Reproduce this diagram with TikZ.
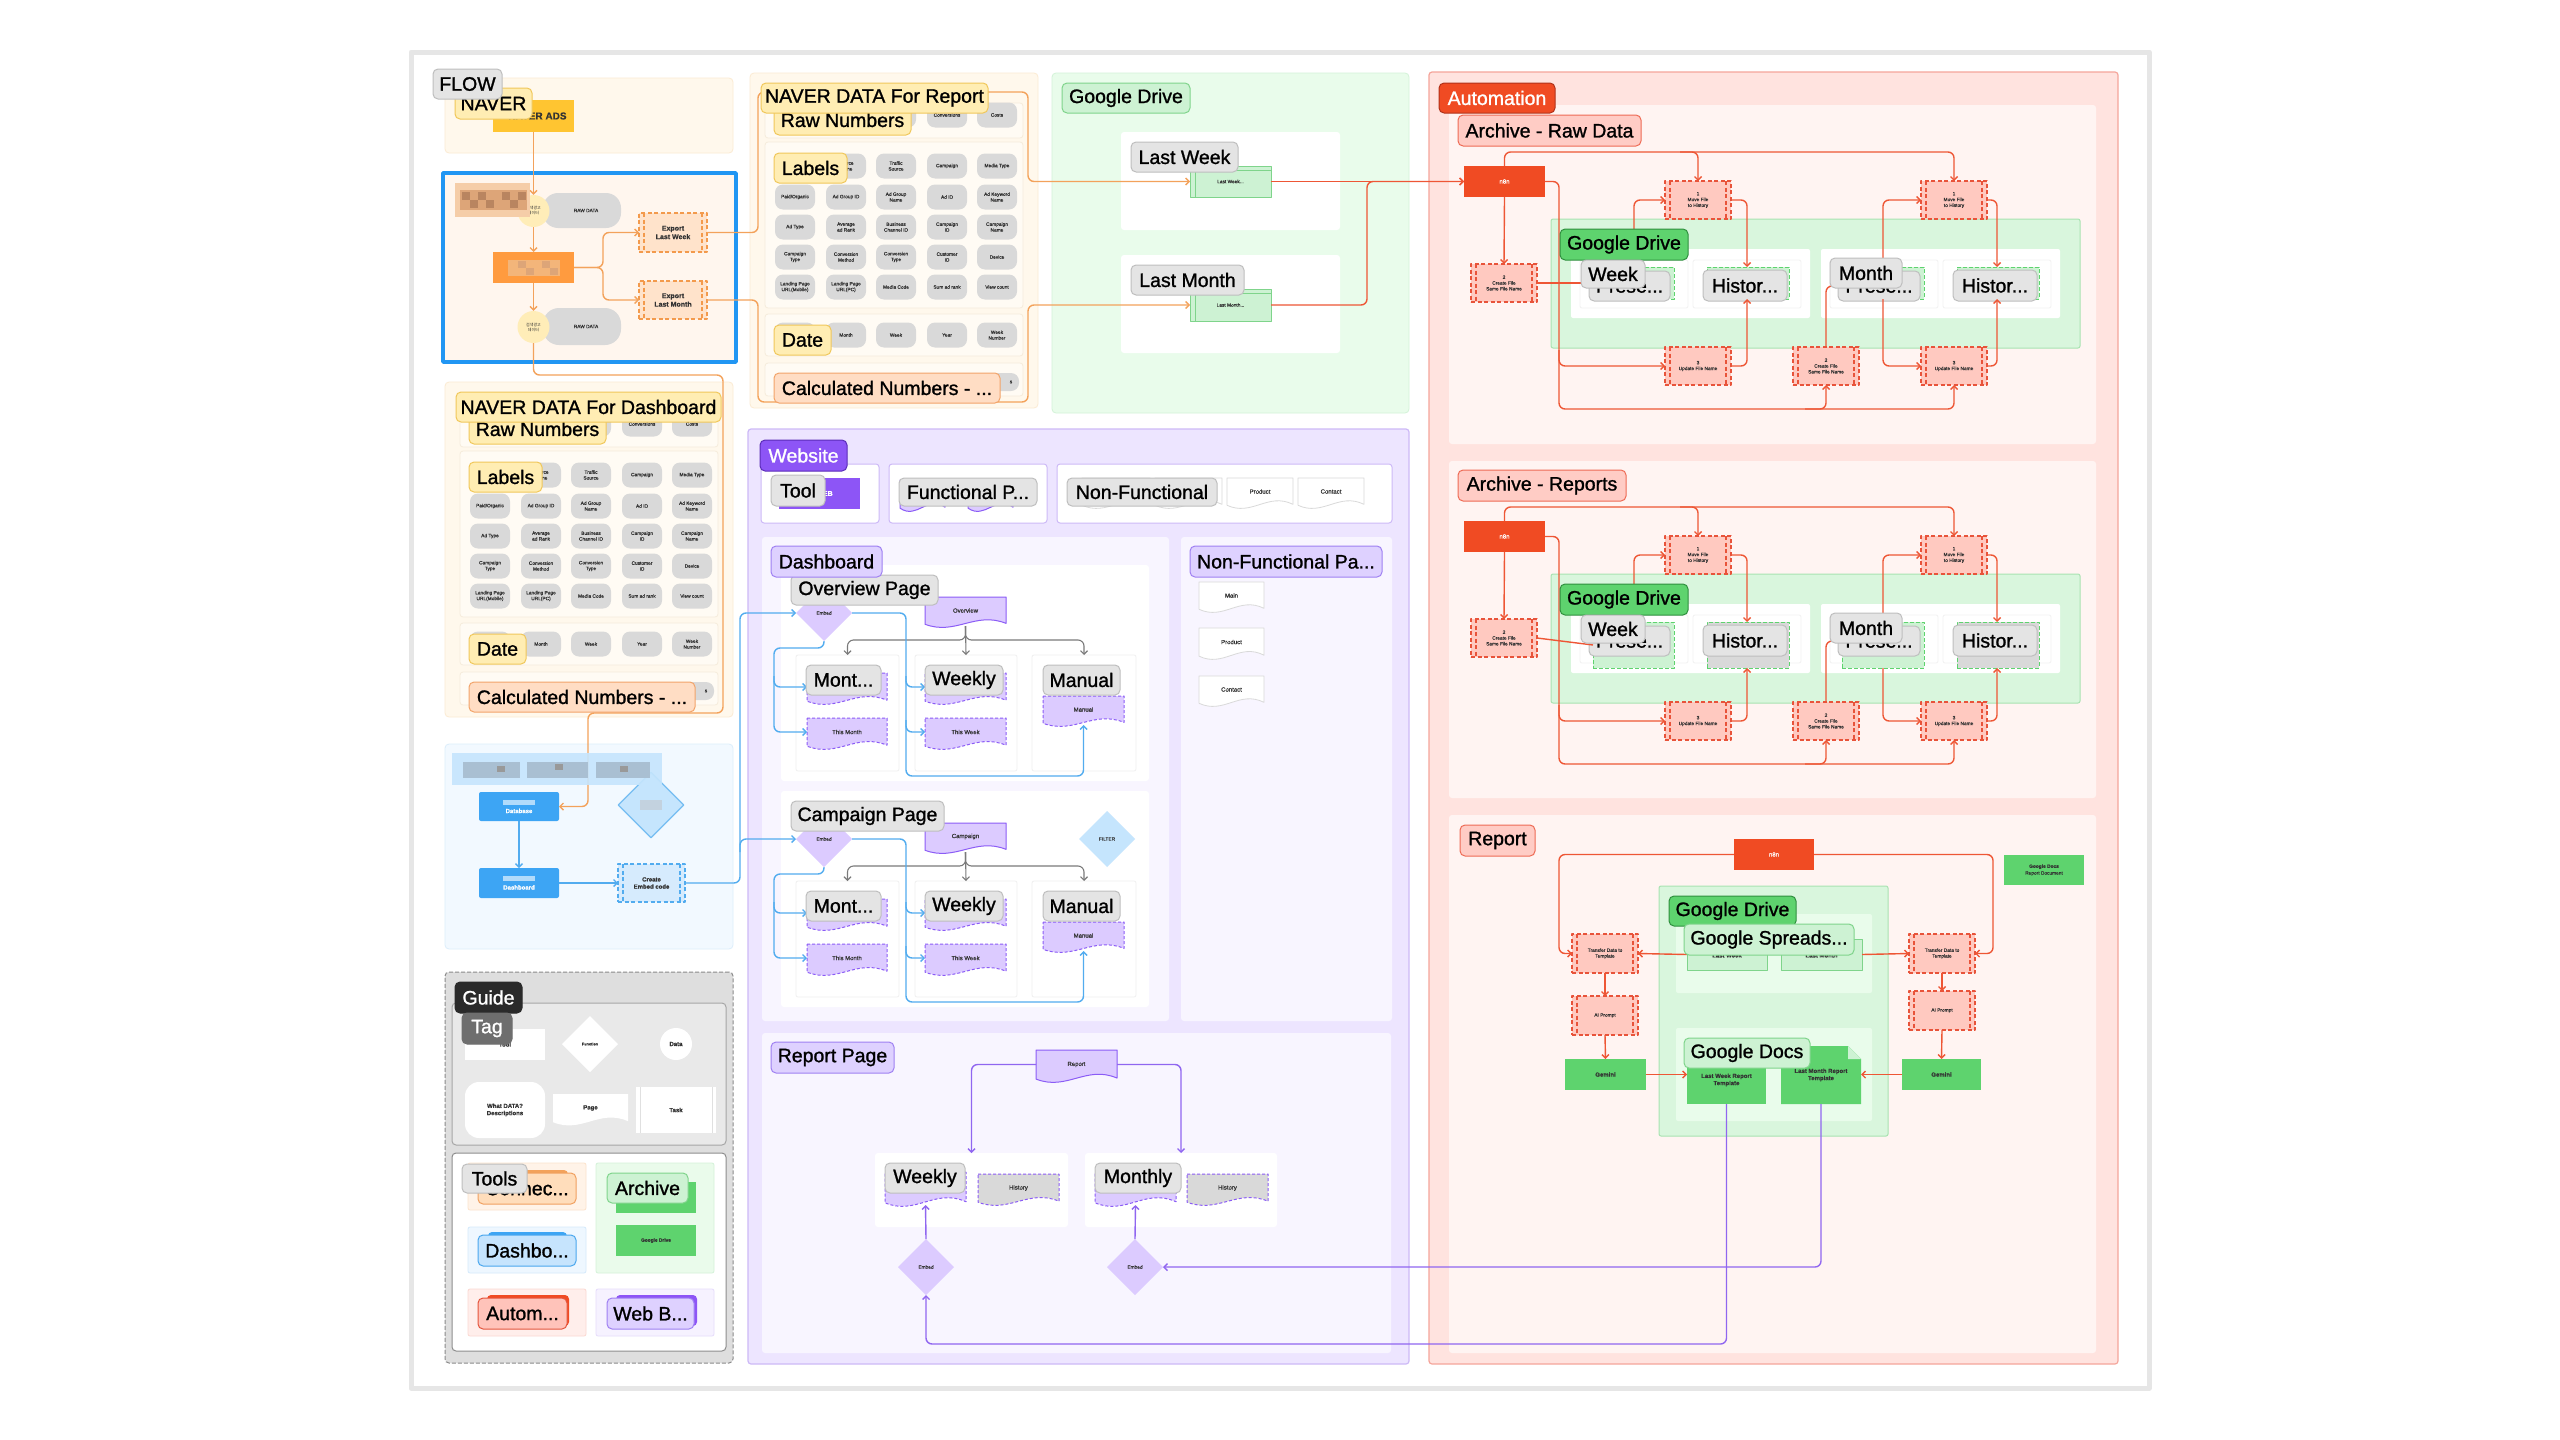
\documentclass[tikz,border=0pt]{standalone}
\usepackage{fontspec}
\setmainfont{Liberation Sans}[FakeBold=0.6]
\setsansfont{Liberation Sans}[FakeBold=0.6]
\newfontfamily\tagfont{Liberation Sans}[FakeBold=1.2]
\newfontfamily\krfont{Noto Sans CJK KR}
\usetikzlibrary{shapes.geometric,arrows.meta}

\definecolor{cText}{HTML}{333333}
\definecolor{cBoardB}{HTML}{E6E6E6}
\definecolor{cCream}{HTML}{FFF8EC}
\definecolor{cCreamB}{HTML}{FBEBD3}
\definecolor{cSub}{HTML}{FFFBF4}
\definecolor{cSubB}{HTML}{F6ECDC}
\definecolor{cYel}{HTML}{FFEDB3}
\definecolor{cYelB}{HTML}{F0C75A}
\definecolor{cNavAds}{HTML}{FFC531}
\definecolor{cOrgLine}{HTML}{F3A25B}
\definecolor{cOrgBox}{HTML}{FF9B3F}
\definecolor{cOrgTask}{HTML}{FFE3CB}
\definecolor{cOrgTaskB}{HTML}{F39A4C}
\definecolor{cOrgT}{HTML}{FFDDC4}
\definecolor{cOrgTB}{HTML}{F2A46A}
\definecolor{cPill}{HTML}{D9D9D9}
\definecolor{cGrayTag}{HTML}{E4E4E4}
\definecolor{cGrayTagB}{HTML}{BEBEBE}
\definecolor{cBlueFrame}{HTML}{2196F3}
\definecolor{cFrameFill}{HTML}{FFF6EE}
\definecolor{cCircle}{HTML}{FFEDB8}
\definecolor{cBlA}{HTML}{F5CDA8}
\definecolor{cBlB}{HTML}{DDA578}
\definecolor{cBlC}{HTML}{B98560}
\definecolor{cBlD}{HTML}{F3B57A}
\definecolor{cGreenBg}{HTML}{E9FCEB}
\definecolor{cGreenBgB}{HTML}{D3F3D8}
\definecolor{cLG}{HTML}{CDF2D3}
\definecolor{cLGB}{HTML}{7FD48B}
\definecolor{cDG}{HTML}{5ED36E}
\definecolor{cDGB}{HTML}{2F8F3E}
\definecolor{cGArea}{HTML}{D9F6DD}
\definecolor{cGAreaB}{HTML}{A8E3B1}
\definecolor{cAutoBg}{HTML}{FFE3DF}
\definecolor{cAutoB}{HTML}{F5A59B}
\definecolor{cAutoIn}{HTML}{FFF4F2}
\definecolor{cRed}{HTML}{F04B23}
\definecolor{cRedB}{HTML}{B0321A}
\definecolor{cRedLine}{HTML}{EE5635}
\definecolor{cTaskR}{HTML}{FFC9C0}
\definecolor{cTaskRB}{HTML}{E8533A}
\definecolor{cPk}{HTML}{FFCCC5}
\definecolor{cPkB}{HTML}{EE6B55}
\definecolor{cWebBg}{HTML}{EDE5FF}
\definecolor{cWebB}{HTML}{CDB9F7}
\definecolor{cWebIn}{HTML}{F8F5FF}
\definecolor{cVio}{HTML}{8D55F6}
\definecolor{cVioB}{HTML}{5B2DB8}
\definecolor{cLP}{HTML}{DED1FF}
\definecolor{cLPB}{HTML}{9F80F2}
\definecolor{cPage}{HTML}{DCCBFF}
\definecolor{cPageB}{HTML}{8B5CF6}
\definecolor{cPurLine}{HTML}{9066F0}
\definecolor{cBlue}{HTML}{3DA5F4}
\definecolor{cBlueLine}{HTML}{52ACEF}
\definecolor{cBlueBg}{HTML}{F2F9FF}
\definecolor{cBlueBgB}{HTML}{DCEEFB}
\definecolor{cLB}{HTML}{C5E5FD}
\definecolor{cCE}{HTML}{D6EBFD}
\definecolor{cBlurG}{HTML}{A9BFD2}
\definecolor{cGuide}{HTML}{DEDEDE}
\definecolor{cGuideB}{HTML}{8A8A8A}
\definecolor{cTagSec}{HTML}{E9E9E9}
\definecolor{cDark}{HTML}{2A2A2A}
\definecolor{cTagT}{HTML}{6E6E6E}
\definecolor{cGrayLine}{HTML}{7A7A7A}
\definecolor{cCellO}{HTML}{FFF3E8}
\definecolor{cCellOB}{HTML}{FCE3CC}
\definecolor{cCellG}{HTML}{EAFBEB}
\definecolor{cCellGB}{HTML}{D5F2D9}
\definecolor{cCellB}{HTML}{EEF7FF}
\definecolor{cCellBB}{HTML}{D5EAFB}
\definecolor{cCellR}{HTML}{FFEEEB}
\definecolor{cCellRB}{HTML}{FBD8D2}
\definecolor{cCellP}{HTML}{F6F2FF}
\definecolor{cCellPB}{HTML}{E6DCFC}
\definecolor{cOT}{HTML}{FFDDBB}
\definecolor{cOTB}{HTML}{F0A060}
\definecolor{cBT}{HTML}{C6E4FD}
\definecolor{cBTB}{HTML}{4AA7EE}
\definecolor{cRT}{HTML}{FFC3BA}
\definecolor{cRTB}{HTML}{E4553D}

\newcommand\fT{\tagfont\fontsize{19.5}{21}\selectfont}
\newcommand\fM{\fontsize{7}{8.5}\selectfont}
\newcommand\fS{\fontsize{6}{7.2}\selectfont}
\newcommand\fXS{\fontsize{4.8}{5.8}\selectfont}
\newcommand\fKR{\krfont\fontsize{4}{5}\selectfont}

\tikzset{
 bse/.style={inner sep=1pt,outer sep=0pt,align=center,font=\fS,text=cText},
 bxs/.style={bse,rectangle},
 sub/.style={bse,fill=cSub,draw=cSubB,line width=.8pt,rounded corners=3pt},
 tgs/.style={bse,rounded corners=5pt,line width=1pt,font=\fT,text=black},
 tgray/.style={tgs,fill=cGrayTag,draw=cGrayTagB},
 tyel/.style={tgs,fill=cYel,draw=cYelB},
 torg/.style={tgs,fill=cOrgT,draw=cOrgTB},
 tlgreen/.style={tgs,fill=cLG,draw=cLGB},
 tdgreen/.style={tgs,fill=cDG,draw=cDGB},
 tpink/.style={tgs,fill=cPk,draw=cPkB},
 tpurp/.style={tgs,fill=cLP,draw=cLPB},
 tred/.style={tgs,fill=cRed,draw=cRedB,text=white},
 tvio/.style={tgs,fill=cVio,draw=cVioB,text=white},
 tdark/.style={tgs,fill=cDark,draw=cDark,text=white},
 ttag/.style={tgs,fill=cTagT,draw=cTagT,text=white},
 tblue/.style={tgs,fill=cBT,draw=cBTB},
 tredl/.style={tgs,fill=cRT,draw=cRTB},
 torgl/.style={tgs,fill=cOT,draw=cOTB},
 pill/.style={bse,fill=cPill,rounded corners=8pt,font=\fXS,minimum width=40pt,minimum height=25pt},
 n8nbox/.style={bse,fill=cRed,text=white,font=\fS},
 card/.style={bse,fill=cGrayTag,draw=cGrayTagB,line width=1pt,rounded corners=5pt,font=\fT,text=black},
 gcard/.style={bse,fill=cLG,draw=cDG,line width=1pt,dash pattern=on 4pt off 2pt},
 slot/.style={bse,fill=white,draw=black!5,line width=.8pt,rounded corners=2pt},
 colbox/.style={bse,fill=white,draw=black!6,line width=.8pt,rounded corners=2pt},
 wrow/.style={bse,fill=white,draw=cWebB,line width=1pt,rounded corners=3pt},
 dia/.style={diamond,aspect=1,minimum width=56pt,minimum height=56pt,inner sep=0pt,outer sep=0pt,font=\fXS,text=cText},
 dpage/.style={fill=cPage,draw=cPageB,line width=1pt,dash pattern=on 3pt off 2pt},
 wpage/.style={fill=white,draw=black!15,line width=.8pt},
 tsk/.style={bse,draw=#1,line width=1.1pt,dash pattern=on 4pt off 2.5pt,
   path picture={\draw[#1,line width=1.1pt,dash pattern=on 4pt off 2.5pt]
   ([xshift=5pt]path picture bounding box.north west) -- ([xshift=5pt]path picture bounding box.south west)
   ([xshift=-5pt]path picture bounding box.north east) -- ([xshift=-5pt]path picture bounding box.south east);}},
 rtask/.style={tsk=cTaskRB,fill=cTaskR,font=\fXS},
 otask/.style={tsk=cOrgTaskB,fill=cOrgTask,font=\fM\bfseries},
 btask/.style={tsk=cBlueLine,fill=cCE,font=\fS\bfseries},
 wtask/.style={bse,fill=white,path picture={\draw[black!12,line width=1pt]
   ([xshift=4pt]path picture bounding box.north west) -- ([xshift=4pt]path picture bounding box.south west)
   ([xshift=-4pt]path picture bounding box.north east) -- ([xshift=-4pt]path picture bounding box.south east);}},
 gfile/.style={bse,fill=cLG,draw=cLGB,line width=1pt,font=\fXS,path picture={\draw[cLGB,line width=.8pt]
   ([xshift=5pt]path picture bounding box.north west) -- ([xshift=5pt]path picture bounding box.south west)
   ([yshift=-4pt]path picture bounding box.north west) -- ([yshift=-4pt]path picture bounding box.north east);}},
 conn/.style={line width=1.4pt,rounded corners=6pt},
 arw/.style={conn,-{Straight Barb[length=3.5pt,width=7pt]}},
 oar/.style={arw,draw=cOrgLine},
 rar/.style={arw,draw=cRedLine},
 rln/.style={conn,draw=cRedLine},
 bar/.style={arw,draw=cBlueLine},
 par/.style={arw,draw=cPurLine},
 gar/.style={arw,draw=cGrayLine,line width=1.1pt},
}

% box by corners: name, style, x1, y1, x2, y2, text
\newcommand\bx[7]{\node[#2,minimum width={((#5)-(#3))*1pt},minimum height={((#6)-(#4))*1pt}] (#1) at ({((#3)+(#5))/2},{((#4)+(#6))/2}) {#7};}
% page (document) shape: name, style, x1, y1, x2, y2, text
\newcommand\pg[7]{%
 \path[#2] ({#3},{#4}) -- ({#5},{#4}) -- ({#5},{(#6)-0.15*((#6)-(#4))}) .. controls ({(#3)+0.62*((#5)-(#3))},{(#6)-0.55*((#6)-(#4))}) and ({(#3)+0.38*((#5)-(#3))},{(#6)+0.25*((#6)-(#4))}) .. ({#3},{(#6)-0.12*((#6)-(#4))}) -- cycle;
 \node[bse,inner sep=0pt,minimum width={((#5)-(#3))*1pt},minimum height={((#6)-(#4))*1pt}] (#1) at ({((#3)+(#5))/2},{((#4)+(#6))/2-2}) {#7};}

% NAVER data block body
\newcommand\navbody[3]{%
\begin{scope}[shift={(#1,#2)}]
\bx{#3out}{bxs,fill=cCream,draw=cCreamB,line width=.8pt,rounded corners=4pt}{445}{382}{733}{717}{}
\bx{#3sr}{sub}{460}{412}{718}{447}{}
\bx{#3sl}{sub}{460}{451}{718}{617}{}
\bx{#3sd}{sub}{460}{623}{718}{665}{}
\bx{#3sc}{sub}{460}{672}{718}{705}{}
\foreach \cx/\t in {490/{},541/{},591/{},642/Conversions,692/Costs}{\node[pill] (#3r\cx) at (\cx,424) {\t};}
\foreach \cx/\cy/\t in {490/475/{},541/475/{Source\\Name},591/475/{Traffic\\Source},642/475/Campaign,692/475/{Media Type},
 490/506/{Paid\slash Organic},541/506/{Ad Group ID},591/506/{Ad Group\\Name},642/506/{Ad ID},692/506/{Ad Keyword\\Name},
 490/536/{Ad Type},541/536/{Average\\ad Rank},591/536/{Business\\Channel ID},642/536/{Campaign\\ID},692/536/{Campaign\\Name},
 490/566/{Campaign\\Type},541/566/{Conversion\\Method},591/566/{Conversion\\Type},642/566/{Customer\\ID},692/566/Device,
 490/596/{Landing Page\\URL(Mobile)},541/596/{Landing Page\\URL(PC)},591/596/{Media Code},642/596/{Sum ad rank},692/596/{View count}}
 {\node[pill] (#3l\cx-\cy) at (\cx,\cy) {\t};}
\foreach \cx/\t in {490/{},541/Month,591/Week,642/Year,692/{Week\\Number}}{\node[pill] (#3d\cx) at (\cx,644) {\t};}
\node[pill,minimum width=34pt,minimum height=18pt] (#3cp) at (697,691) {};
\node[bse,font=\fXS] (#3cs) at (706,691) {s};
\end{scope}}
\newcommand\navtags[5]{%
\begin{scope}[shift={(#1,#2)}]
\bx{#3tr}{tyel}{469}{414}{606}{444}{Raw Numbers}
\bx{#3t}{tyel}{456}{392}{#4}{422}{#5}
\bx{#3tl}{tyel}{469}{462}{542}{492}{Labels}
\bx{#3td}{tyel}{469}{634}{526}{664}{Date}
\bx{#3tc}{torg}{469}{682}{695}{712}{Calculated Numbers - ...}
\end{scope}}

% Archive block: yshift, suffix, extra card height, history fill
\newcommand\archiveBody[4]{%
\begin{scope}[shift={(0,#1)}]
\bx{gda#2}{bxs,fill=cGArea,draw=cGAreaB,line width=1pt,rounded corners=2pt}{1551}{219}{2080}{348}{}
\bx{wbl#2}{bxs,fill=white,rounded corners=2pt}{1571}{249}{1810}{318}{}
\bx{wbr#2}{bxs,fill=white,rounded corners=2pt}{1821}{249}{2060}{318}{}
\bx{sa#2}{slot}{1580}{260}{1688}{308}{}
\bx{sb#2}{slot}{1693}{260}{1801}{308}{}
\bx{sc#2}{slot}{1830}{260}{1938}{308}{}
\bx{sd#2}{slot}{1943}{260}{2051}{308}{}
\bx{ga#2}{gcard}{1593}{267}{1674}{299+#3}{}
\bx{gb#2}{gcard,fill=#4}{1707}{267}{1789}{299+#3}{}
\bx{gc#2}{gcard}{1842}{267}{1924}{299+#3}{}
\bx{gd#2}{gcard,fill=#4}{1957}{267}{2039}{299+#3}{}
\bx{pa#2}{card}{1589}{271}{1670}{301}{Prese...}
\bx{pb#2}{card}{1703}{270}{1787}{301}{Histor...}
\bx{pc#2}{card}{1838}{271}{1920}{301}{Prese...}
\bx{pd#2}{card}{1953}{270}{2037}{301}{Histor...}
\bx{n8n#2}{n8nbox}{1464}{166}{1545}{197}{n8n}
\bx{mvl#2}{rtask}{1665}{181}{1731}{219}{1\\Move File\\to History}
\bx{mvr#2}{rtask}{1921}{181}{1987}{219}{1\\Move File\\to History}
\bx{cra#2}{rtask}{1471}{264}{1537}{302}{2\\Create File\\Same File Name}
\bx{upl#2}{rtask}{1665}{347}{1731}{385}{3\\Update File Name}
\bx{crb#2}{rtask}{1793}{347}{1859}{385}{2\\Create File\\Same File Name}
\bx{upr#2}{rtask}{1921}{347}{1987}{385}{3\\Update File Name}
\draw[rar] (n8n#2.north) -- (1504.5,152) -- (1954,152) -- (mvr#2.north);
\draw[rar] (1680,152) -- (1698,152) -- (mvl#2.north);
\draw[rar] (n8n#2.south) -- (cra#2.north);
\draw[rar] (n8n#2.east) -- (1559,181.5) -- (1559,409) -- (1954,409) -- (upr#2.south);
\draw[rar] (1805,409) -- (1826,409) -- (crb#2.south);
\draw[rar] (1559,350) -- (1559,366) -- (upl#2.west);
\draw[rln] (cra#2.east) -- (ga#2.west);
\draw[rar] (1634,267) -- (1634,200) -- (mvl#2.west);
\draw[rar] (mvl#2.east) -- (1747,200) -- (gb#2.north -| 1747,0);
\draw[rar] (upl#2.east) -- (1747,366) -- (gb#2.south -| 1747,0);
\draw[rln] (crb#2.north) -- (1826,286) -- (pc#2.west);
\draw[rar] (1883,267) -- (1883,200) -- (mvr#2.west);
\draw[rar] (gc#2.south -| 1883,0) -- (1883,366) -- (upr#2.west);
\draw[rar] (mvr#2.east) -- (1997,200) -- (gd#2.north -| 1997,0);
\draw[rar] (upr#2.east) -- (1997,366) -- (gd#2.south -| 1997,0);
\end{scope}}
\newcommand\archiveTags[2]{%
\begin{scope}[shift={(0,#1)}]
\bx{gdt#2}{tdgreen}{1560}{229}{1688}{260}{Google Drive}
\bx{wk#2}{tgray}{1581}{260}{1645}{288}{Week}
\bx{mo#2}{tgray}{1830}{258}{1902}{288}{Month}
\end{scope}}

% Dashboard page block: yshift, suffix, page text, tag text, tag right x
\newcommand\dashsec[5]{%
\begin{scope}[shift={(0,#1)}]
\bx{sub#2}{bxs,fill=white,rounded corners=3pt}{781}{565}{1149}{781}{}
\bx{cla#2}{colbox}{796}{655}{899}{771}{}
\bx{clb#2}{colbox}{915}{655}{1017}{771}{}
\bx{clc#2}{colbox}{1032}{655}{1136}{771}{}
\node[dia,fill=cPage] (emb#2) at (824,613) {Embed};
\pg{pg#2}{fill=cPage,draw=cPageB,line width=1pt}{925}{597}{1006}{628}{#3}
\pg{ma#2}{dpage}{807}{673}{887}{705}{}
\pg{mb#2}{dpage}{807}{718}{887}{750}{This Month}
\pg{wa#2}{dpage}{925}{673}{1006}{705}{}
\pg{wb#2}{dpage}{925}{718}{1006}{750}{This Week}
\pg{mn#2}{dpage}{1043}{696}{1124}{727}{Manual}
\draw[gar] (pg#2.south) -- (clb#2.north);
\draw[gar] (pg#2.south) -- ++(0,14) -| (cla#2.north);
\draw[gar] (pg#2.south) -- ++(0,14) -| (clc#2.north);
\draw[bar] (emb#2.east) -- (906,613) -- (906,776) -- (1083.5,776) -- (mn#2.south);
\draw[bar] (906,676) -- (906,687) -- (wa#2.west);
\draw[bar] (906,720) -- (906,732) -- (wb#2.west);
\draw[bar] (emb#2.south) -- (824,648) -- (774,648) -- (774,732) -- (mb#2.west);
\draw[bar] (774,676) -- (774,687) -- (ma#2.west);
\bx{tma#2}{tgray}{806}{665}{881}{695}{Mont...}
\bx{twk#2}{tgray}{925}{665}{1003}{695}{Weekly}
\bx{tmn#2}{tgray}{1043}{665}{1120}{695}{Manual}
\bx{tpg#2}{tgray}{791}{575}{#5}{605}{#4}
\end{scope}}

\begin{document}
\begin{tikzpicture}[x=1pt,y=-1pt,line join=round]
\useasboundingbox (0,0) rectangle (2560,1440);
\fill[white] (0,0) rectangle (2560,1440);
\draw[cBoardB,line width=5pt,fill=white] (411,52) rectangle (2149,1388);

%% ===== LEFT: NAVER =====
\bx{navbg}{bxs,fill=cCream,draw=cCreamB,line width=.8pt,rounded corners=4pt}{445}{78}{733}{153}{}
\bx{navads}{bxs,fill=cNavAds,font=\fontsize{10}{11}\selectfont\bfseries,text=black!80}{493}{100}{574}{132}{\hspace*{8pt}NAVER ADS}
\bx{frame}{bxs,fill=cFrameFill,draw=cBlueFrame,line width=3.5pt}{443}{173}{736}{362}{}
\bx{rawa}{bxs,fill=cPill,rounded corners=15pt,font=\fXS}{543}{193}{621}{228}{\hspace*{8pt}RAW DATA}
\node[circle,fill=cCircle,minimum size=32pt,inner sep=0pt,font=\fKR,align=center,text=cText] (ca) at (533.5,211) {검색광고\\데이터};
\fill[cBlA] (455,183) rectangle (530,217);
\fill[cBlB] (460,190) rectangle (527,210);
\foreach \i/\j in {0/0,1/1,2/0,3/1,5/0,6/1,7/0}{\fill[cBlC] ({462+\i*8},{192+\j*8}) rectangle +(8,8);}
\bx{ob}{bxs,fill=cOrgBox}{493}{252}{574}{283}{}
\fill[cBlD] (508,260) rectangle (560,276);
\foreach \i/\j in {1/0,2/1,4/0,5/1}{\fill[cBlB] ({510+\i*8},{261+\j*7}) rectangle +(8,7);}
\bx{rawb}{bxs,fill=cPill,rounded corners=16pt,font=\fXS}{543}{308}{621}{345}{\hspace*{8pt}RAW DATA}
\node[circle,fill=cCircle,minimum size=32pt,inner sep=0pt,font=\fKR,align=center,text=cText] (cb) at (533.5,327) {검색광고\\데이터};
\bx{elw}{otask}{639}{213}{707}{252}{Export\\Last Week}
\bx{elm}{otask}{639}{281}{707}{319}{Export\\Last Month}

%% ===== NAVER DATA blocks =====
\navbody{0}{0}{d}
\navbody{305}{-309}{r}

%% ===== BLUE (dashboard tool) =====
\bx{gbg}{bxs,fill=cBlueBg,draw=cBlueBgB,line width=.8pt,rounded corners=4pt}{445}{744}{733}{949}{}
\bx{db}{bxs,fill=cBlue,text=white,font=\fS\bfseries,rounded corners=2pt}{479}{792}{559}{821}{\textcolor{white!60!cBlue}{\rule{32pt}{5pt}}\\[1pt]Database}
\node[diamond,aspect=1,minimum width=66pt,minimum height=66pt,inner sep=0pt,fill=cLB,draw=cBlueLine!80,line width=1.2pt] (gdia) at (651,805) {\textcolor{cBlurG!70}{\rule{22pt}{10pt}}};
\bx{dsh}{bxs,fill=cBlue,text=white,font=\fS\bfseries,rounded corners=2pt}{479}{868}{559}{898}{\textcolor{white!60!cBlue}{\rule{32pt}{5pt}}\\[1pt]Dashboard}
\bx{ce}{btask}{618}{864}{685}{902}{Create\\Embed code}

%% ===== GUIDE =====
\bx{guide}{bxs,fill=cGuide,draw=cGuideB,line width=1pt,dash pattern=on 4pt off 2pt,rounded corners=4pt}{445}{972}{733}{1363}{}
\bx{tsec}{bxs,fill=cTagSec,draw=black!35,line width=1pt,rounded corners=4pt}{452}{1003}{726}{1145}{}
\bx{gtool}{bxs,fill=white,font=\fS\bfseries}{465}{1029}{545}{1060}{Tool}
\node[dia,fill=white,font=\fontsize{3.8}{4.5}\selectfont\bfseries] (gfun) at (590,1044) {Function};
\node[circle,fill=white,minimum size=32pt,inner sep=0pt,font=\fS\bfseries,text=cText] (gdat) at (676,1044) {Data};
\bx{gwd}{bxs,fill=white,rounded corners=14pt,font=\fS\bfseries}{465}{1082}{545}{1138}{What DATA?\\Descriptions}
\pg{gpg}{fill=white}{553}{1094}{628}{1126}{\textbf{Page}}
\bx{gtask}{wtask,font=\fS\bfseries}{636}{1087}{716}{1133}{Task}
\bx{tools}{bxs,fill=white,draw=black!45,line width=1pt,rounded corners=4pt}{452}{1153}{726}{1351}{}
\bx{clo}{bxs,fill=cCellO,draw=cCellOB,line width=.8pt,rounded corners=2pt}{468}{1163}{586}{1210}{}
\bx{clg}{bxs,fill=cCellG,draw=cCellGB,line width=.8pt,rounded corners=2pt}{596}{1163}{714}{1273}{}
\bx{clbl}{bxs,fill=cCellB,draw=cCellBB,line width=.8pt,rounded corners=2pt}{468}{1227}{586}{1273}{}
\bx{clr}{bxs,fill=cCellR,draw=cCellRB,line width=.8pt,rounded corners=2pt}{468}{1289}{586}{1336}{}
\bx{clp}{bxs,fill=cCellP,draw=cCellPB,line width=.8pt,rounded corners=2pt}{596}{1289}{714}{1336}{}
\bx{sto}{bxs,fill=cOrgLine,rounded corners=4pt}{486}{1170}{568}{1200}{}
\bx{stg}{bxs,fill=cDG}{616}{1182}{696}{1213}{}
\bx{gdbox}{bxs,fill=cDG,font=\fXS\bfseries}{616}{1225}{696}{1256}{Google Drive}
\bx{stb}{bxs,fill=cBlue,rounded corners=4pt}{488}{1232}{567}{1262}{}
\bx{str}{bxs,fill=cRed,rounded corners=4pt}{487}{1295}{569}{1326}{}
\bx{stp}{bxs,fill=cVio,rounded corners=4pt}{616}{1295}{697}{1326}{}

%% ===== GOOGLE DRIVE (top) =====
\bx{gdtop}{bxs,fill=cGreenBg,draw=cGreenBgB,line width=.8pt,rounded corners=4pt}{1052}{73}{1409}{413}{}
\bx{gwa}{bxs,fill=white,rounded corners=3pt}{1121}{132}{1340}{230}{}
\bx{gwb}{bxs,fill=white,rounded corners=3pt}{1121}{255}{1340}{353}{}
\bx{lwf}{gfile}{1190}{166}{1271}{197}{Last Week...}
\bx{lmf}{gfile}{1190}{289}{1271}{321}{Last Month...}

%% ===== AUTOMATION =====
\bx{auto}{bxs,fill=cAutoBg,draw=cAutoB,line width=1.2pt,rounded corners=3pt}{1429}{72}{2118}{1364}{}
\bx{ainA}{bxs,fill=cAutoIn,rounded corners=3pt}{1449}{105}{2096}{444}{}
\bx{ainB}{bxs,fill=cAutoIn,rounded corners=3pt}{1449}{461}{2096}{798}{}
\bx{ainC}{bxs,fill=cAutoIn,rounded corners=3pt}{1449}{815}{2096}{1353}{}
\archiveBody{0}{A}{0}{cLG}
\archiveBody{355}{B}{14}{cPill}

% Report
\bx{n8nC}{n8nbox}{1734}{839}{1814}{870}{n8n}
\bx{gdocbox}{bxs,fill=cDG,font=\fXS}{2004}{855}{2084}{885}{\textbf{Google Docs}\\[1pt]Report Document}
\bx{rga}{bxs,fill=cGArea,draw=cGAreaB,line width=1pt,rounded corners=2pt}{1659}{886}{1888}{1136}{}
\bx{rsbt}{bxs,fill=cGreenBg,rounded corners=2pt}{1676}{914}{1872}{993}{}
\bx{rsbb}{bxs,fill=cGreenBg,rounded corners=2pt}{1676}{1028}{1872}{1121}{}
\bx{slw}{bxs,fill=cLG,draw=cLGB,line width=1pt,font=\fS\bfseries}{1687}{939}{1767}{970}{\raisebox{-6pt}{Last Week}}
\bx{slm}{bxs,fill=cLG,draw=cLGB,line width=1pt,font=\fS\bfseries}{1781}{939}{1862}{970}{\raisebox{-6pt}{Last Month}}
\bx{dlw}{bxs,fill=cDG,font=\fS\bfseries}{1687}{1056}{1766}{1104}{Last Week Report\\Template}
\fill[cDG] (1781,1046) -- (1848,1046) -- (1861,1059) -- (1861,1104) -- (1781,1104) -- cycle;
\fill[cLG] (1848,1046) -- (1861,1059) -- (1848,1059) -- cycle;
\node[bse,font=\fS\bfseries,minimum width=80pt,minimum height=58pt,inner sep=0pt] (dlm) at (1821,1075) {Last Month Report\\Template};
\bx{trl}{rtask}{1572}{934}{1638}{973}{Transfer Data to\\Template}
\bx{trr}{rtask}{1909}{934}{1975}{973}{Transfer Data to\\Template}
\bx{ail}{rtask}{1572}{996}{1638}{1035}{AI Prompt}
\bx{air}{rtask}{1909}{991}{1975}{1030}{AI Prompt}
\bx{gml}{bxs,fill=cDG,font=\fS\bfseries}{1565}{1059}{1646}{1090}{Gemini}
\bx{gmr}{bxs,fill=cDG,font=\fS\bfseries}{1902}{1059}{1981}{1090}{Gemini}
\draw[rar] (n8nC.west) -- (1559,854.5) -- (1559,953.5) -- (trl.west);
\draw[rar] (n8nC.east) -- (1993,854.5) -- (1993,953.5) -- (trr.east);
\draw[rar] (slw.west) -- (trl.east);
\draw[rar] (slm.east) -- (trr.west);
\draw[rar] (trl.south) -- (ail.north);
\draw[rar] (ail.south) -- (gml.north);
\draw[rar] (trr.south) -- (air.north);
\draw[rar] (air.south) -- (gmr.north);
\draw[rar] (gml.east) -- (gml.east -| dlw.west);
\draw[rar] (gmr.west) -- (gmr.west -| dlm.east);

%% ===== WEBSITE =====
\bx{web}{bxs,fill=cWebBg,draw=cWebB,line width=1.2pt,rounded corners=3pt}{748}{429}{1409}{1364}{}
\bx{wra}{wrow}{761}{464}{879}{523}{}
\bx{wrb}{wrow}{889}{464}{1047}{523}{}
\bx{wrc}{wrow}{1057}{464}{1392}{523}{}
\bx{webb}{bxs,fill=cVio,text=white,font=\fM\bfseries}{779}{478}{860}{509}{\hspace*{10pt}WEB}
\pg{fpa}{fill=cPage,draw=cPageB,line width=1pt}{900}{480}{945}{512}{}
\pg{fpb}{fill=cPage,draw=cPageB,line width=1pt}{968}{480}{1013}{512}{}
\pg{nfa}{wpage}{1082}{478}{1150}{509}{}
\pg{nfb}{wpage}{1155}{478}{1222}{509}{}
\pg{nfc}{wpage}{1227}{478}{1293}{509}{Product}
\pg{nfd}{wpage}{1298}{478}{1364}{509}{Contact}
\bx{dashb}{bxs,fill=cWebIn,rounded corners=3pt}{762}{537}{1169}{1021}{}
\bx{nfbox}{bxs,fill=cWebIn,rounded corners=3pt}{1181}{537}{1392}{1021}{}
\pg{nmain}{wpage}{1199}{582}{1264}{613}{Main}
\pg{nprod}{wpage}{1199}{628}{1264}{660}{Product}
\pg{ncont}{wpage}{1199}{676}{1264}{707}{Contact}
\dashsec{0}{O}{Overview}{Overview Page}{938}
\dashsec{226}{C}{Campaign}{Campaign Page}{944}
\node[dia,fill=cLB] (filt) at (1107,839) {FILTER};
% report page
\bx{rpb}{bxs,fill=cWebIn,rounded corners=3pt}{762}{1033}{1391}{1353}{}
\pg{rep}{fill=cPage,draw=cPageB,line width=1pt}{1036}{1050}{1117}{1083}{Report}
\bx{rwa}{bxs,fill=white,rounded corners=3pt}{875}{1153}{1068}{1227}{}
\bx{rwb}{bxs,fill=white,rounded corners=3pt}{1085}{1153}{1277}{1227}{}
\pg{wkp}{dpage}{885}{1172}{966}{1207}{}
\pg{hsa}{dpage,fill=cPill}{978}{1174}{1059}{1206}{History}
\pg{mop}{dpage}{1095}{1172}{1176}{1207}{}
\pg{hsb}{dpage,fill=cPill}{1187}{1174}{1268}{1206}{History}
\node[dia,fill=cPage] (embA) at (926,1267) {Embed};
\node[dia,fill=cPage] (embB) at (1135,1267) {Embed};
\draw[par] (rep.west) -| (rwa.north);
\draw[par] (rep.east) -| (rwb.north);
\draw[par] (embA.north) -- (wkp.south);
\draw[par] (embB.north) -- (mop.south);

%% ===== cross-region connectors =====
\draw[oar] (navads.south) -- (ca.north);
\draw[oar] (ca.south) -- (ob.north);
\draw[oar] (ob.south) -- (cb.north);
\draw[oar] (ob.east) -- (603,267.5) |- (elw.west);
\draw[oar] (ob.east) -- (603,267.5) |- (elm.west);
\draw[oar] (elw.east) -- (758,232.5) -- (758,92) -- (1028,92) -- (1028,181.5) -- (lwf.west);
\draw[oar] (elm.east) -- (758,300) -- (758,402) -- (1028,402) -- (1028,305) -- (lmf.west);
\draw[oar] (cb.south) -- (533.5,375) -- (723,375) -- (723,713) -- (588,713) -- (588,806.5) -- (db.east);
\draw[rar] (lwf.east) -- (n8nA.west);
\draw[rar] (lmf.east) -- (1367,305) -- (1367,181.5) -- (n8nA.west);
\draw[bar] (db.south) -- (dsh.north);
\draw[bar] (dsh.east) -- (ce.west);
\draw[bar] (ce.east) -- (740,883) -- (740,613) -- (embO.west);
\draw[bar] (740,852) -- (740,839) -- (embC.west);
\draw[par] (dlw.south) -- (1726.5,1344) -- (926,1344) -- (embA.south);
\draw[par] (dlm.south) -- (1821,1267) -- (embB.east);

% blurred header of dashboard tool (over the orange line)
\fill[cLB,opacity=.9] (452,753) rectangle (662,785);
\fill[cBlurG] (463,762) rectangle (520,778);
\fill[cBlurG] (527,762) rectangle (588,778);
\fill[cBlurG] (596,762) rectangle (650,778);
\fill[black!40] (497,766) rectangle (505,772);
\fill[black!40] (555,764) rectangle (563,770);
\fill[black!40] (620,766) rectangle (628,772);

%% ===== TAGS =====
\bx{navt}{tyel}{455}{88}{532}{119}{NAVER}
\bx{flow}{tgray}{433}{69}{502}{99}{FLOW}
\navtags{0}{0}{d}{721}{NAVER DATA For Dashboard}
\navtags{305}{-309}{r}{683}{NAVER DATA For Report}
\bx{gdtag}{tlgreen}{1062}{83}{1190}{113}{Google Drive}
\bx{lwt}{tgray}{1131}{142}{1238}{172}{Last Week}
\bx{lmt}{tgray}{1131}{265}{1244}{295}{Last Month}
\bx{autot}{tred}{1439}{83}{1555}{113}{Automation}
\bx{artag}{tpink}{1458}{115}{1641}{146}{Archive - Raw Data}
\archiveTags{0}{A}
\bx{arrtag}{tpink}{1458}{470}{1626}{501}{Archive - Reports}
\archiveTags{355}{B}
\bx{reptag}{tpink}{1460}{825}{1535}{856}{Report}
\bx{rgdt}{tdgreen}{1669}{896}{1796}{926}{Google Drive}
\bx{rsst}{tlgreen}{1684}{924}{1854}{955}{Google Spreads...}
\bx{rgdc}{tlgreen}{1684}{1038}{1810}{1068}{Google Docs}
\bx{webt}{tvio}{760}{440}{847}{471}{Website}
\bx{toolt}{tgray}{771}{475}{825}{506}{Tool}
\bx{funct}{tgray}{899}{478}{1037}{506}{Functional P...}
\bx{nonft}{tgray}{1067}{478}{1217}{506}{Non-Functional}
\bx{dasht}{tpurp}{771}{546}{882}{577}{Dashboard}
\bx{nfpt}{tpurp}{1190}{546}{1382}{577}{Non-Functional Pa...}
\bx{rpt}{tpurp}{771}{1042}{894}{1073}{Report Page}
\bx{wkt}{tgray}{885}{1163}{965}{1193}{Weekly}
\bx{mot}{tgray}{1095}{1163}{1181}{1193}{Monthly}
\bx{guidet}{tdark}{455}{982}{522}{1013}{Guide}
\bx{tagt}{ttag}{462}{1013}{512}{1044}{Tag}
\bx{connt}{torgl}{478}{1173}{576}{1204}{Connec...}
\bx{toolst}{tgray}{462}{1164}{527}{1193}{Tools}
\bx{archt}{tlgreen}{607}{1173}{688}{1203}{Archive}
\bx{dbt}{tblue}{478}{1235}{576}{1266}{Dashbo...}
\bx{autt}{tredl}{478}{1298}{567}{1329}{Autom...}
\bx{webbt}{tpurp}{607}{1298}{694}{1329}{Web B...}
\end{tikzpicture}
\end{document}
